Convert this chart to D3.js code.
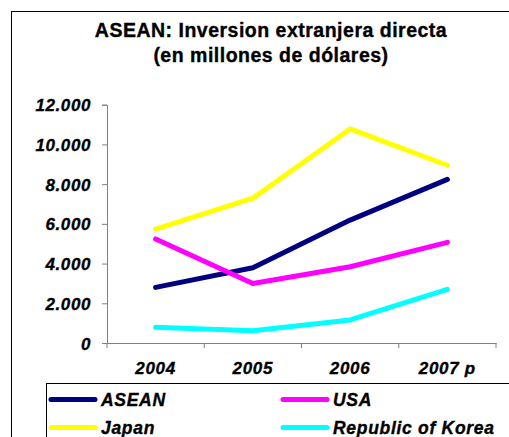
<!DOCTYPE html>
<html>
<head>
<meta charset="utf-8">
<script src="https://cdn.jsdelivr.net/npm/d3@7"></script>
<style>
  body { margin: 0; background: #fff; }
  svg { display: block; font-family: "Liberation Sans", Arial, sans-serif; }
  text { font-weight: bold; fill: #000; stroke: #000; stroke-width: 0.35px; }
</style>
</head>
<body>
<div id="chart"></div>
<script>
// data
var years = ['2004', '2005', '2006', '2007 p'];
var aseanVals = [2800, 3790, 6190, 8240];
var usaVals = [5240, 3000, 3840, 5070];
var japanVals = [5730, 7290, 10780, 8950];
var koreaVals = [790, 620, 1160, 2700];
var yTicks = [0, 2000, 4000, 6000, 8000, 10000, 12000];

var series = [
  { name: 'ASEAN', values: aseanVals, color: '#000080' },
  { name: 'USA', values: usaVals, color: '#FF00FF' },
  { name: 'Japan', values: japanVals, color: '#FFFF00' },
  { name: 'Republic of Korea', values: koreaVals, color: '#00FFFF' }
];

var width = 509, height = 437;
var svg = d3.select('#chart').append('svg')
  .attr('width', width).attr('height', height);

// outer frame (runs off the right and bottom)
svg.append('rect').attr('x', 11.5).attr('y', 11.5)
  .attr('width', 520).attr('height', 440)
  .attr('fill', 'none').attr('stroke', '#000').attr('stroke-width', 1);

// title
svg.append('text').attr('x', 271).attr('y', 37)
  .attr('text-anchor', 'middle').attr('font-size', 19.5).attr('letter-spacing', 0.5)
  .text('ASEAN: Inversion extranjera directa');
svg.append('text').attr('x', 271).attr('y', 62)
  .attr('text-anchor', 'middle').attr('font-size', 19.5).attr('letter-spacing', 0.5)
  .text('(en millones de dólares)');

var x0 = 107, x1 = 496, yTop = 104.7, yBot = 343;
var x = d3.scaleBand().domain(years).range([x0, x1]);
var y = d3.scaleLinear().domain([0, 12000]).range([yBot, yTop]);

var fmt = function(d) { return d3.format(',')(d).replace(/,/g, '.'); };

// y axis
var yAxis = svg.append('g').attr('transform', 'translate(' + x0 + ',0)')
  .call(d3.axisLeft(y).tickValues(yTicks).tickSize(5).tickFormat(fmt));
yAxis.selectAll('text').attr('font-size', 17).attr('font-style', 'italic')
  .attr('font-family', '"Liberation Sans", Arial, sans-serif')
  .attr('letter-spacing', 0.6).attr('x', -16).attr('dy', '0.36em');
yAxis.selectAll('line,path').attr('stroke', '#808080');

// x axis
var xAxis = svg.append('g').attr('transform', 'translate(0,' + yBot + ')')
  .call(d3.axisBottom(x).tickSize(0).tickSizeOuter(0));
xAxis.selectAll('text').attr('font-size', 17).attr('font-style', 'italic')
  .attr('font-family', '"Liberation Sans", Arial, sans-serif')
  .attr('letter-spacing', 0.7).attr('y', 19);
xAxis.select('path').attr('stroke', '#808080');
// category boundary ticks
xAxis.selectAll('.bt').data(years.concat(['end'])).enter().append('line')
  .attr('x1', function(d, i) { return x0 + i * x.step(); })
  .attr('x2', function(d, i) { return x0 + i * x.step(); })
  .attr('y1', 0).attr('y2', 5).attr('stroke', '#808080');

// lines
var line = d3.line()
  .x(function(d, i) { return x(years[i]) + x.bandwidth() / 2; })
  .y(function(d) { return y(d); });

svg.append('g').selectAll('path').data(series).enter().append('path')
  .attr('d', function(d) { return line(d.values); })
  .attr('fill', 'none').attr('stroke', function(d) { return d.color; })
  .attr('stroke-width', 5).attr('stroke-linecap', 'round').attr('stroke-linejoin', 'round');

// legend box
svg.append('rect').attr('x', 46.5).attr('y', 383.5)
  .attr('width', 480).attr('height', 80)
  .attr('fill', '#fff').attr('stroke', '#000');

var legend = svg.append('g').selectAll('g').data(series).enter().append('g')
  .attr('transform', function(d, i) {
    return 'translate(' + (i % 2 ? 283 : 51) + ',' + (i < 2 ? 399.5 : 427.5) + ')';
  });
legend.append('line').attr('x1', 0).attr('x2', 44).attr('y1', 0).attr('y2', 0)
  .attr('stroke', function(d) { return d.color; }).attr('stroke-width', 5)
  .attr('stroke-linecap', 'round');
legend.append('text').attr('x', 50).attr('y', 6)
  .attr('font-size', 17.5).attr('font-style', 'italic').attr('letter-spacing', 0.7)
  .text(function(d) { return d.name; });
</script>
</body>
</html>
